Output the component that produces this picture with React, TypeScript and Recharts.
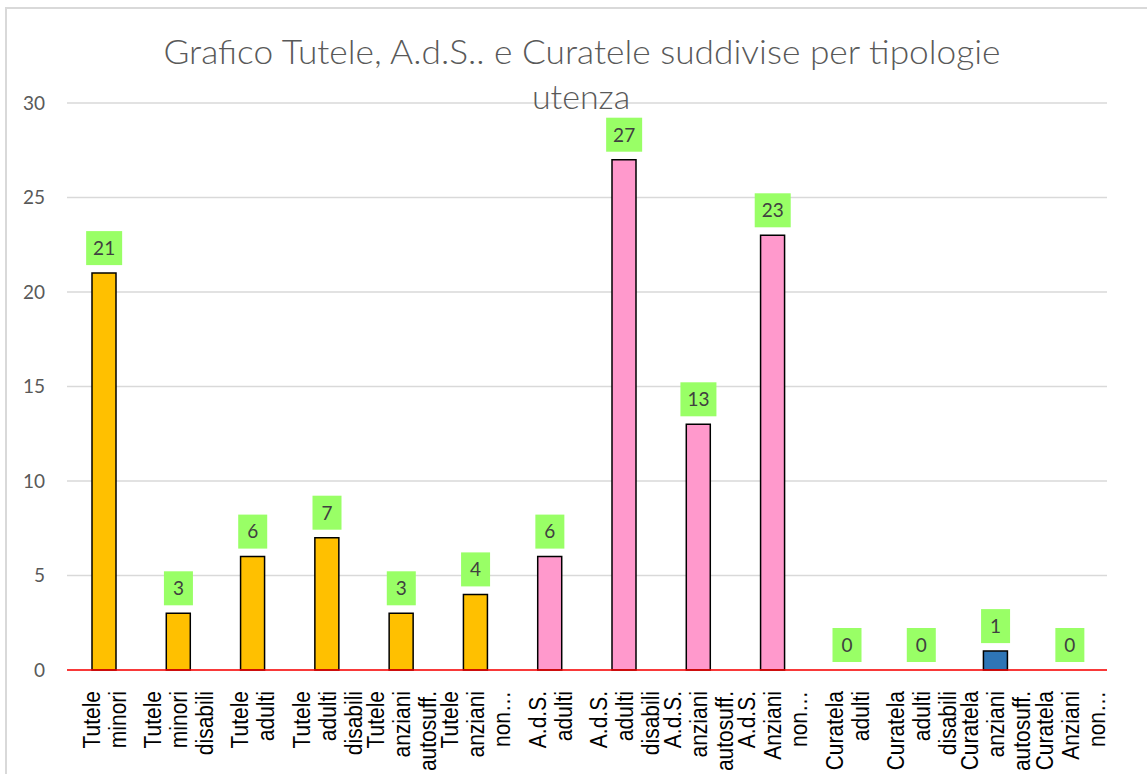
import React from "react";
import { ComposedChart, Bar, Line, XAxis, YAxis, CartesianGrid, Cell, LabelList } from "recharts";

const categories = [
  "Tutele minori",
  "Tutele minori disabili",
  "Tutele adulti",
  "Tutele adulti disabili",
  "Tutele anziani autosuff.",
  "Tutele anziani non…",
  "A.d.S. adulti",
  "A.d.S. adulti disabili",
  "A.d.S. anziani autosuff.",
  "A.d.S. Anziani non…",
  "Curatela adulti",
  "Curatela adulti disabili",
  "Curatela anziani autosuff.",
  "Curatela Anziani non…",
];
const values = [21, 3, 6, 7, 3, 4, 6, 27, 13, 23, 0, 0, 1, 0];
const groups = ["T", "T", "T", "T", "T", "T", "A", "A", "A", "A", "C", "C", "C", "C"];
const yTicks = [0, 5, 10, 15, 20, 25, 30];
const titleLines = ["Grafico Tutele, A.d.S.. e Curatele suddivise per tipologie", "utenza"];

const groupColors: Record<string, string> = { T: "#FFC000", A: "#FF99CC", C: "#2E75B6" };

const data = categories.map((c, i) => ({ name: c, value: values[i], group: groups[i] }));

const XTick = (props: any) => {
  const { x, y, payload } = props;
  const lines = String(payload.value).split(" ");
  const n = lines.length;
  const sp = 26;
  return (
    <g>
      {lines.map((l, i) => {
        const lx = x + (i - (n - 1) / 2) * sp;
        const ly = y + 13;
        return (
          <text
            key={i}
            x={0}
            y={0}
            transform={`translate(${lx}, ${ly}) rotate(-90) scale(1, 1.15)`}
            textAnchor="end"
            dy="0.36em"
            fontFamily="'Liberation Sans', Arial, sans-serif"
            fontSize={21}
            fill="#000"
          >
            {l}
          </text>
        );
      })}
    </g>
  );
};

const YTick = (props: any) => {
  const { y, payload } = props;
  return (
    <text x={45} y={y} dy="0.35em" textAnchor="end" fontFamily="Lato, sans-serif" fontSize={19} fill="#595959">
      {payload.value}
    </text>
  );
};

const ValueLabel = (props: any) => {
  const { x, y, value } = props;
  const cx = x;
  const s = String(value);
  const w = s.length === 1 ? 29 : 36;
  const h = 34;
  const bottom = y - 8;
  return (
    <g>
      <rect x={cx - w / 2} y={bottom - h} width={w} height={h} fill="#99FF66" />
      <text x={cx} y={bottom - h / 2} dy="0.36em" textAnchor="middle" fontFamily="Lato, sans-serif" fontSize={19} fill="#404040">
        {s}
      </text>
    </g>
  );
};

export default function App() {
  return (
    <div style={{ position: "absolute", left: 0, top: 0, width: 1147, height: 774, overflow: "hidden", background: "#fff" }}>
      <div
        style={{
          position: "absolute",
          left: 5,
          top: 7,
          width: 1142,
          height: 767,
          borderLeft: "2px solid #D9D9D9",
          borderTop: "2px solid #D9D9D9",
          boxSizing: "border-box",
        }}
      />
      <div style={{ position: "absolute", left: 0, top: 0 }}>
        <ComposedChart width={1147} height={774} data={data} margin={{ top: 103, right: 40, bottom: 4, left: 0 }}>
          <text x={582} y={52} dy="0.35em" textAnchor="middle" fontFamily="Lato, sans-serif" fontWeight={300} fontSize={34} fill="#595959" textLength={837} lengthAdjust="spacingAndGlyphs">
            {titleLines[0]}
          </text>
          <text x={581} y={97} dy="0.35em" textAnchor="middle" fontFamily="Lato, sans-serif" fontWeight={300} fontSize={34} fill="#595959">
            {titleLines[1]}
          </text>
          <CartesianGrid vertical={false} stroke="#D9D9D9" strokeWidth={1.5} />
          <XAxis
            dataKey="name"
            interval={0}
            height={100}
            tickLine={false}
            axisLine={{ stroke: "#FF0000", strokeWidth: 1.5 }}
            tick={<XTick />}
          />
          <YAxis
            width={67}
            domain={[0, 30]}
            ticks={yTicks}
            axisLine={false}
            tickLine={false}
            tick={<YTick />}
          />
          <Bar dataKey="value" barSize={24} stroke="#000" strokeWidth={1.5} isAnimationActive={false}>
            {data.map((d, i) => (
              <Cell key={i} fill={groupColors[d.group]} />
            ))}
          </Bar>
          <Line dataKey="value" stroke="none" dot={false} activeDot={false} legendType="none" isAnimationActive={false}>
            <LabelList dataKey="value" content={<ValueLabel />} />
          </Line>
        </ComposedChart>
      </div>
    </div>
  );
}
